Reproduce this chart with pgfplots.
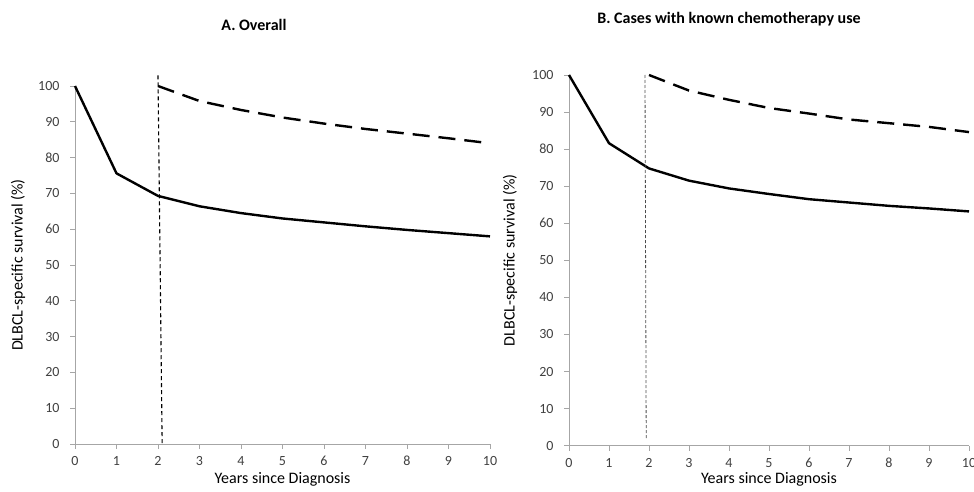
\documentclass[border=0pt]{standalone}
\usepackage{pgfplots}
\pgfplotsset{compat=1.18}
\usepackage{fontspec}
\setmainfont{Carlito}
\definecolor{axgray}{HTML}{A6A6A6}
\definecolor{tickgray}{HTML}{404040}
\pgfplotsset{
  survstyle/.style={
    scale only axis,
    xmin=0, xmax=10, ymin=0, ymax=100,
    axis x line=bottom, axis y line=left,
    axis line style={-, axgray, line width=0.9pt},
    xtick={0,...,10}, ytick={0,10,...,100},
    tick align=outside, major tick length=5pt,
    tick style={axgray, line width=0.9pt},
    /pgf/number format/assume math mode=true,
    tick label style={font=\fontsize{14}{16}\selectfont, text=tickgray},
    xticklabel style={anchor=center, yshift=-17pt+5pt},
    yticklabel style={anchor=east, xshift=-12pt+5pt},
    label style={font=\fontsize{16}{18}\selectfont, text=black},
    clip=false,
  },
  solidcurve/.style={black, line width=2.4pt, line join=round},
  dashcurve/.style={black, line width=2.4pt, dash pattern=on 17pt off 9pt},
}
\begin{document}
\begin{tikzpicture}[x=1pt,y=1pt]
\useasboundingbox (0,0) rectangle (974,-492);
\node[font=\fontsize{16}{18}\selectfont\bfseries] at (254,-25) {A. Overall};
\node[font=\fontsize{16}{18}\selectfont\bfseries] at (729,-19) {B. Cases with known chemotherapy use};
\begin{axis}[survstyle,
  at={(75pt,-444pt)}, anchor=south west,
  width=415pt, height=358pt,
  xlabel={Years since Diagnosis},
  ylabel={DLBCL-specific survival (\%)},
  xlabel style={at={(axis description cs:0.5,0)}, anchor=center, yshift=-35pt},
  ylabel style={at={(axis description cs:0,0.5)}, anchor=center, yshift=57pt},
]
\addplot[solidcurve] coordinates {(0,100) (1,75.6) (2,69.3) (3,66.4) (4,64.5) (5,63.0) (6,61.9) (7,60.8) (8,59.8) (9,58.9) (10,58.0)};
\addplot[dashcurve] coordinates {(2,100) (3,95.8) (4,93.3) (5,91.2) (6,89.5) (7,88.0) (8,86.7) (9,85.4) (10,84.0)};
\addplot[black, line width=1.1pt, dash pattern=on 4pt off 3pt] coordinates {(2.0,103) (2.1,0)};
\end{axis}
\begin{axis}[survstyle,
  at={(569pt,-445.7pt)}, anchor=south west,
  width=400pt, height=370.7pt,
  xlabel={Years since Diagnosis},
  ylabel={DLBCL-specific survival (\%)},
  xlabel style={at={(axis description cs:0.5,0)}, anchor=center, yshift=-34pt},
  ylabel style={at={(axis description cs:0,0.5)}, anchor=center, yshift=59pt},
]
\addplot[solidcurve] coordinates {(0,100) (1,81.6) (2,74.8) (3,71.5) (4,69.4) (5,67.9) (6,66.5) (7,65.6) (8,64.7) (9,64.0) (10,63.2)};
\addplot[dashcurve] coordinates {(2,100) (3,95.8) (4,93.3) (5,91.1) (6,89.6) (7,88.0) (8,87.0) (9,86.0) (10,84.6)};
\addplot[black!70, line width=0.8pt, dash pattern=on 3pt off 2pt] coordinates {(1.9,100) (1.93,2)};
\end{axis}
\end{tikzpicture}
\end{document}
